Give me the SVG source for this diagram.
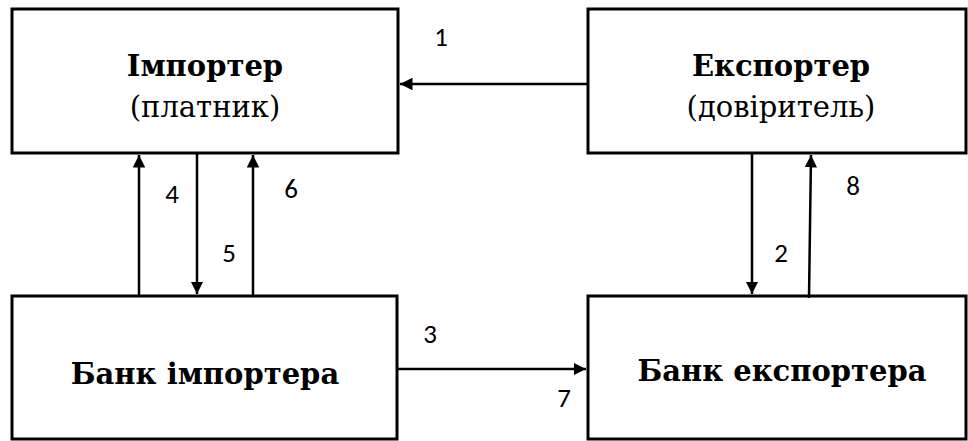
<svg xmlns="http://www.w3.org/2000/svg" width="968" height="441" viewBox="0 0 968 441">
  <defs>
    <marker id="head" viewBox="0 0 10 10" refX="10" refY="5" markerWidth="5" markerHeight="5" markerUnits="strokeWidth" orient="auto">
      <path d="M0,0 L10,5 L0,10 Z" fill="#000"/>
    </marker>
  </defs>
  <rect width="968" height="441" fill="#fff"/>

  <!-- boxes: white fill, 3px black frame; centred serif captions -->
  <g fill="#fff" stroke="#000" stroke-width="3">
    <g id="importer">
      <rect x="12" y="9" width="386" height="144"/>
      <text x="205" y="76" font-family="DejaVu Serif, serif" font-weight="bold" font-size="29" text-anchor="middle" fill="#000" stroke="none">Імпортер</text>
      <text x="205" y="117" font-family="DejaVu Serif, serif" font-size="29" text-anchor="middle" fill="#000" stroke="none">(платник)</text>
    </g>

    <g id="exporter">
      <rect x="588" y="9" width="378" height="144"/>
      <text x="781" y="76" font-family="DejaVu Serif, serif" font-weight="bold" font-size="29" text-anchor="middle" fill="#000" stroke="none">Експортер</text>
      <text x="781" y="117" font-family="DejaVu Serif, serif" font-size="29" text-anchor="middle" fill="#000" stroke="none">(довіритель)</text>
    </g>

    <g id="importer-bank">
      <rect x="12" y="296" width="385" height="143"/>
      <text x="205" y="384" font-family="DejaVu Serif, serif" font-weight="bold" font-size="29" text-anchor="middle" fill="#000" stroke="none">Банк імпортера</text>
    </g>

    <g id="exporter-bank">
      <rect x="588" y="296" width="378" height="143"/>
      <text x="782" y="381" font-family="DejaVu Serif, serif" font-weight="bold" font-size="29" text-anchor="middle" fill="#000" stroke="none">Банк експортера</text>
    </g>
  </g>

  <g id="connectors">
    <g stroke="#000" stroke-width="2.5" fill="none" marker-end="url(#head)">
      <line x1="588" y1="84" x2="400" y2="84"/>
      <line x1="139" y1="296" x2="139" y2="155"/>
      <line x1="197" y1="153" x2="197" y2="294"/>
      <line x1="253" y1="296" x2="253" y2="155"/>
      <line x1="752" y1="153" x2="752" y2="294"/>
      <line x1="809" y1="298" x2="811" y2="155"/>
      <line x1="398" y1="369" x2="586" y2="369"/>
    </g>
    <g font-family="Carlito, sans-serif" font-size="27" text-anchor="middle" fill="#000">
      <text x="441" y="46">1</text>
      <text x="172" y="203">4</text>
      <text x="229" y="262">5</text>
      <text x="291" y="198">6</text>
      <text x="781" y="262">2</text>
      <text x="853" y="195">8</text>
      <text x="430" y="343">3</text>
      <text x="564" y="407">7</text>
    </g>
  </g>
</svg>
